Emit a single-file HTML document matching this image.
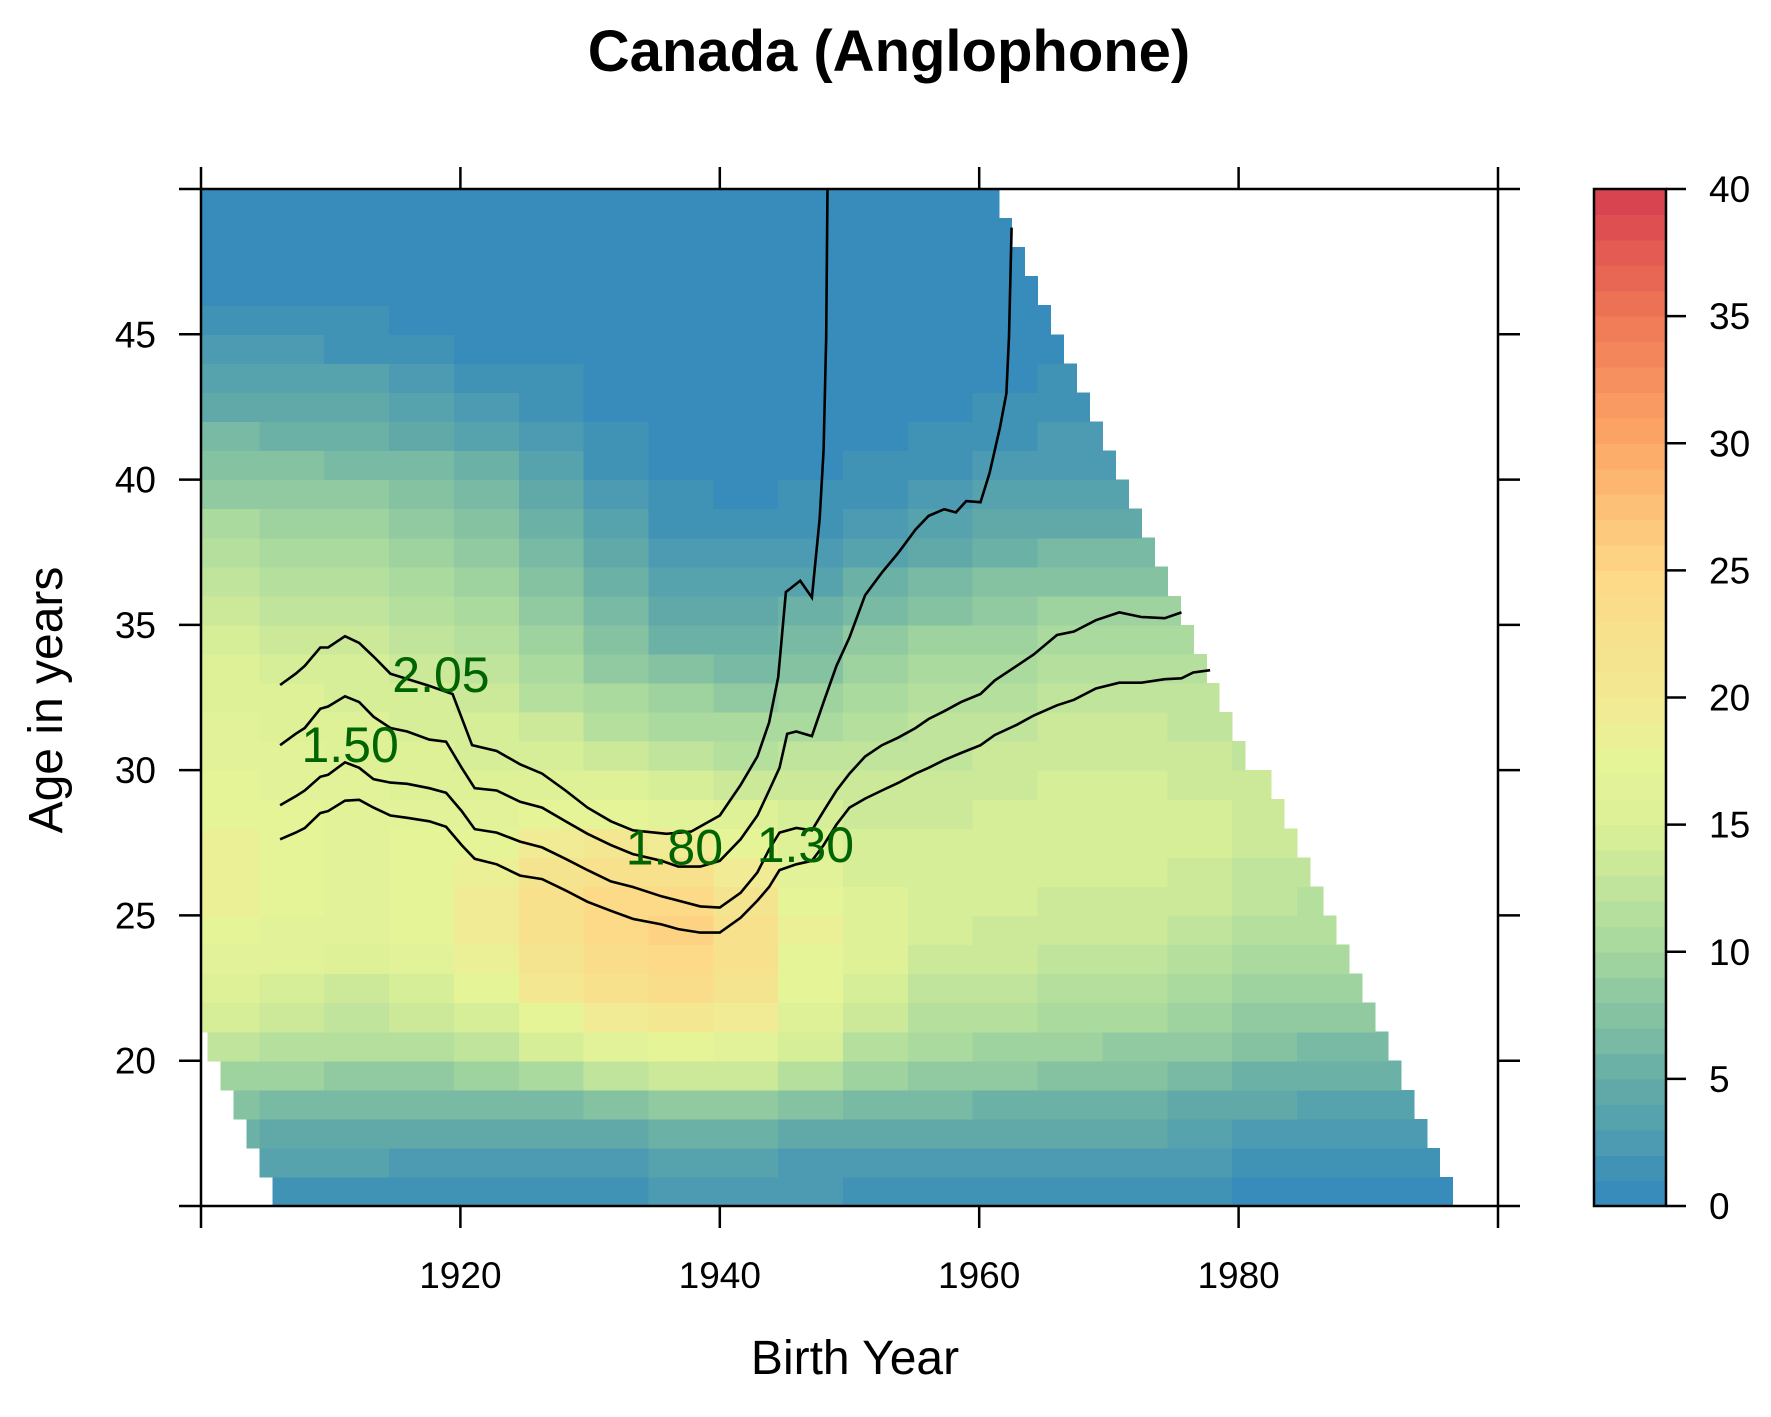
<!DOCTYPE html>
<html><head><meta charset="utf-8"><style>html,body{margin:0;padding:0;background:#fff}svg{display:block}</style></head>
<body>
<svg id="chart" width="1771" height="1417" viewBox="0 0 1771 1417" xmlns="http://www.w3.org/2000/svg" font-family="Liberation Sans, Arial, sans-serif">
<defs><clipPath id="plotclip"><rect x="201" y="189" width="1297" height="1017"/></clipPath></defs>
<rect width="1771" height="1417" fill="#fff"/>
<text x="889" y="71" font-size="58" font-weight="bold" text-anchor="middle">Canada (Anglophone)</text>
<g id="cells" clip-path="url(#plotclip)" shape-rendering="crispEdges"></g>
<g id="contours" clip-path="url(#plotclip)"></g>
<g id="axes"></g>
<g id="cbar"></g>
<text x="855" y="1374" font-size="48" text-anchor="middle">Birth Year</text>
<text x="0" y="0" font-size="48" text-anchor="middle" transform="translate(62,700) rotate(-90)">Age in years</text>
</svg>
<script>
// cohort block starts (5-year blocks)
const cohortBlocks = [1900,1905,1910,1915,1920,1925,1930,1935,1940,1945,1950,1955,1960,1965,1970,1975,1980,1985,1990,1995];
const ages = [15,16,17,18,19,20,21,22,23,24,25,26,27,28,29,30,31,32,33,34,35,36,37,38,39,40,41,42,43,44,45,46,47,48,49];
// rates per 1000 by age (rows) and cohort block (columns)
const rates = [
[1,1,1,1,1,1,1.5,2,2,2,1.5,1.5,1.5,1.5,1.5,1.5,0.7,0.7,0.7,0.7],
[3,3,3,2.5,2,2,2.5,3,3,2.5,2.5,2.5,2.5,2.5,2.5,2.5,1.5,1.5,1.5,1.5],
[5,4.5,4.5,4.5,4,4,4.5,5,5,4.5,4,4,4,4,4,3.5,2.5,2.5,2.5,2.5],
[7,6.5,6,6,6,6.5,7.5,8,8,7,6,6,5.5,5.5,5,4.5,4,3.5,3.5,3.5],
[9,9,8.5,8.5,9,10,12,13,13,11,9,8.5,8,7.5,7,6.5,5.5,5,5,5],
[12,11,11,11,12,14,16,17,16,14,11,10,9.5,9,8.5,8,7,6.5,6.5,6.5],
[14,13,12.5,13,14,17,19,20,19,15,13,11.5,11,10,10,9.5,8.5,8,8,8],
[15,14,13.5,14.5,17,20,22,23,21,17,14,12.5,12,11,11,10.5,9.5,9,9,9],
[16.5,16,15,16,18.5,21,23,24,22,17.5,15,13.5,13,12,12,11.5,10.5,10,10,10],
[17,16.5,16,17,19.5,22,24,25,22,18,15,14,13.5,13,13,12.5,11.5,11,11,11],
[18,17,16.5,17,19.5,22,24,24,21,17.5,15,14,14,13.5,13.5,13,12,11.5,11.5,11.5],
[18,17,16.5,17,18.5,21,22,22,19,16.5,14.5,14,14,14,14,13.5,12.5,12,12,12],
[18,17,16.5,17,17.5,19,20,19,17,15.5,14,14,14,14,14.5,14,13,12.5,12,12],
[17.5,17,16.5,16,16.5,17,17,16,15,14,13.5,13.5,14,14,14.5,14,13,12.5,12,12],
[17,16.5,16,15.5,15.5,15.5,15,14,13,13,13,13,13.5,14,14,13.5,13,12.5,12,12],
[16.5,16,15.5,15,14.5,14,13,12,11.5,12,12.5,12.5,13,13.5,13.5,13,12.5,12,12,12],
[16,15.5,15,14.5,14,13,11.5,10.5,10,10.5,11.5,12,12.5,13,13,12.5,12,12,12,12],
[15.5,15,14.5,14,13,11.5,10,9,8.5,9,10.5,11,11.5,12,12,12,12,12,12,12],
[15,14.5,14,13,12,10,8.5,7,6.5,7.5,9,10,10.5,11,11,11,11,11,11,11],
[14,13.5,13,12,11,9,7,5.5,5,6,8,9,9.5,10,10,10,10,10,10,10],
[13,12.5,12,11,10,8,6,4.5,4,5,6.5,7.5,8.5,9,9,9,9,9,9,9],
[12,11.5,11,10,9,7,5,3.5,3,3.5,5,6,7,7.5,7.5,7.5,7.5,7.5,7.5,7.5],
[11,10.5,10,9,8,6,4,2.5,2,2.5,3.5,4.5,5,6,6,6,6,6,6,6],
[10,9.5,9,8,7,5,3,1.5,1,1.5,2.5,3.5,4,4.5,4.5,4.5,4.5,4.5,4.5,4.5],
[8.5,8,8,7,6,4,2,1,0.5,1,1.5,2.5,3,3.5,3.5,3.5,3.5,3.5,3.5,3.5],
[7,7,6.5,6,5,3,1.5,0.7,0.5,0.5,1,1.5,2,2.5,2.5,2.5,2.5,2.5,2.5,2.5],
[6,5.5,5,4.5,3.5,2,1,0.5,0.5,0.5,0.7,1,1.5,2,2,2,2,2,2,2],
[4.5,4.5,4,3.5,2.5,1.5,0.7,0.5,0.5,0.5,0.5,0.7,1,1.2,1.2,1.2,1.2,1.2,1.2,1.2],
[3.5,3,3,2.5,1.5,1,0.5,0.5,0.5,0.5,0.5,0.5,0.7,1,1,1,1,1,1,1],
[2.5,2,1.5,1,0.7,0.5,0.5,0.5,0.5,0.5,0.5,0.5,0.5,0.7,0.7,0.7,0.7,0.7,0.7,0.7],
[1.2,1.2,1,0.7,0.5,0.5,0.5,0.5,0.5,0.5,0.5,0.5,0.5,0.5,0.5,0.5,0.5,0.5,0.5,0.5],
[0.5,0.5,0.5,0.5,0.5,0.5,0.5,0.5,0.5,0.5,0.5,0.5,0.5,0.5,0.5,0.5,0.5,0.5,0.5,0.5],
[0.5,0.5,0.5,0.5,0.5,0.5,0.5,0.5,0.5,0.5,0.5,0.5,0.5,0.5,0.5,0.5,0.5,0.5,0.5,0.5],
[0.5,0.5,0.5,0.5,0.5,0.5,0.5,0.5,0.5,0.5,0.5,0.5,0.5,0.5,0.5,0.5,0.5,0.5,0.5,0.5],
[0.5,0.5,0.5,0.5,0.5,0.5,0.5,0.5,0.5,0.5,0.5,0.5,0.5,0.5,0.5,0.5,0.5,0.5,0.5,0.5]
];
const xTicks = [1900,1920,1940,1960,1980,2000];
const xTickLabels = ["","1920","1940","1960","1980",""];
const yTicks = [15,20,25,30,35,40,45,50];
const yTickLabels = ["","20","25","30","35","40","45",""];
const keyTicks = [0,5,10,15,20,25,30,35,40];
// contour lines: cohort / age
const c205x = [1906.1,1907.3,1908.0,1909.2,1909.8,1911.1,1912.2,1913.3,1914.6,1917.6,1919.4,1920.9,1922.8,1924.6,1926.3,1928.1,1929.8,1931.6,1933.3,1935.9,1937.8,1940.0,1941.6,1942.9,1943.8,1944.5,1945.1,1946.2,1947.1,1947.7,1948.0,1948.2,1948.3];
const c205y = [32.93,33.32,33.59,34.22,34.22,34.61,34.38,33.91,33.32,32.9,32.62,30.86,30.66,30.20,29.88,29.30,28.71,28.24,27.93,27.81,27.89,28.44,29.49,30.47,31.64,33.20,36.13,36.52,35.94,38.67,41.02,44.92,50];
const c180x = [1906.1,1907.3,1908.0,1909.2,1909.8,1911.1,1912.2,1913.3,1914.6,1915.9,1917.6,1918.9,1920.1,1921.1,1922.8,1924.6,1926.3,1928.1,1929.8,1931.6,1933.3,1935.5,1936.8,1938.5,1940.0,1941.6,1942.9,1943.8,1944.6,1945.2,1945.9,1947.1,1948.0,1949.0,1950.0,1951.2,1952.5,1953.8,1955.1,1956.1,1957.3,1958.2,1959.0,1960.1,1960.8,1961.6,1962.1,1962.3,1962.5];
const c180y = [30.86,31.25,31.45,32.11,32.19,32.54,32.34,31.84,31.45,31.33,31.05,30.98,30.08,29.38,29.30,28.91,28.71,28.24,27.81,27.42,27.11,26.88,26.68,26.68,26.88,27.62,28.44,29.30,30.08,31.25,31.33,31.17,32.34,33.59,34.57,36.02,36.80,37.50,38.28,38.75,38.98,38.87,39.26,39.22,40.23,41.80,42.97,44.92,48.67];
const c150x = [1906.1,1907.3,1908.0,1909.2,1909.8,1911.1,1912.2,1913.3,1914.6,1915.9,1917.6,1918.9,1920.1,1921.1,1922.8,1924.6,1926.3,1928.1,1929.8,1931.6,1933.3,1935.5,1936.8,1938.5,1940.0,1941.6,1942.9,1943.8,1944.6,1945.9,1947.1,1948.0,1949.0,1950.0,1951.2,1952.5,1953.8,1955.1,1956.1,1957.3,1958.6,1960.1,1961.2,1962.9,1964.2,1966.0,1967.3,1969.0,1970.8,1972.5,1974.3,1975.6];
const c150y = [28.79,29.10,29.30,29.77,29.84,30.27,30.08,29.69,29.57,29.53,29.38,29.22,28.59,27.97,27.85,27.54,27.34,26.95,26.56,26.17,25.98,25.66,25.51,25.31,25.27,25.78,26.48,27.27,27.85,28.01,27.93,28.59,29.30,29.88,30.47,30.86,31.13,31.45,31.76,32.03,32.34,32.62,33.09,33.59,33.98,34.65,34.77,35.16,35.43,35.27,35.23,35.43];
const c130x = [1906.1,1907.3,1908.0,1909.2,1909.8,1911.1,1912.2,1913.3,1914.6,1915.9,1917.6,1918.9,1920.1,1921.1,1922.8,1924.6,1926.3,1928.1,1929.8,1931.6,1933.3,1935.5,1936.8,1938.5,1940.0,1941.6,1942.9,1943.8,1944.6,1945.9,1947.1,1948.0,1949.0,1950.0,1951.2,1952.5,1953.8,1955.1,1956.1,1957.3,1958.6,1960.1,1961.2,1962.9,1964.2,1966.0,1967.3,1969.0,1970.8,1972.5,1974.3,1975.6,1976.5,1977.8];
const c130y = [27.62,27.85,28.01,28.52,28.59,28.95,28.98,28.71,28.44,28.36,28.24,28.05,27.42,26.95,26.76,26.37,26.25,25.86,25.47,25.16,24.88,24.69,24.53,24.41,24.41,24.92,25.51,25.98,26.56,26.76,26.88,27.42,28.13,28.71,29.02,29.30,29.57,29.88,30.08,30.35,30.59,30.86,31.21,31.56,31.88,32.23,32.42,32.81,33.01,33.01,33.13,33.16,33.36,33.44];
const contourLabels = ["2.05","1.50","1.80","1.30"];
const labelX = [1918.5,1911.5,1936.5,1946.6];
const labelY = [33.28,30.86,27.34,27.42];

const NS = "http://www.w3.org/2000/svg";
const X = c => 201 + (c - 1900) * 12.97;
const Y = a => 1206 - (a - 15) * (1017 / 35);
const KY = v => 1206 - v * (1017 / 40);
const stops = [[0,[50,136,189]],[5,[101,173,166]],[10,[164,215,158]],[15,[220,240,151]],[17.5,[230,244,152]],[20,[242,233,147]],[25,[253,216,134]],[30,[252,168,103]],[35,[240,120,86]],[40,[213,62,79]]];
function color(v){
  const b = Math.min(39, Math.max(0, Math.floor(v))) + 0.5;
  for (let i = 0; i < stops.length - 1; i++) {
    const [v0, c0] = stops[i], [v1, c1] = stops[i+1];
    if (b <= v1) { const t = (b - v0) / (v1 - v0);
      return "rgb(" + c0.map((x, k) => Math.round(x + (c1[k] - x) * t)).join(",") + ")"; }
  }
  return "rgb(213,62,79)";
}
function mk(tag, attrs, parent){ const e = document.createElementNS(NS, tag); for (const k in attrs) e.setAttribute(k, attrs[k]); parent.appendChild(e); return e; }

const cells = document.getElementById("cells");
ages.forEach((a, ai) => {
  const cmin = Math.max(1900, 1921 - a);
  const cmax = a < 30 ? 2011 - a : 2010 - a;
  for (let c = cmin; c <= cmax; c++) {
    const bi = Math.min(cohortBlocks.length - 1, Math.floor((c - 1900) / 5));
    const v = rates[ai][bi];
    const r = mk("rect", {x: X(c - 0.5), y: Y(a + 1), width: 12.97 + 0.6, height: 1017/35 + 0.6, fill: color(v)}, cells);
    
    
  }
});

const cont = document.getElementById("contours");
[[c205x,c205y],[c180x,c180y],[c150x,c150y],[c130x,c130y]].forEach(([xs, ys]) => {
  const p = mk("polyline", {points: xs.map((c, i) => X(c).toFixed(1) + "," + Y(ys[i]).toFixed(1)).join(" "), fill: "none", stroke: "#000", "stroke-width": 2.6}, cont);
  
  
});
contourLabels.forEach((t, i) => {
  const e = mk("text", {x: X(labelX[i]), y: Y(labelY[i]) + 17, "font-size": 50, fill: "#006400", "text-anchor": "middle"}, cont);
  e.textContent = t;
  
  
});

const ax = document.getElementById("axes");
const frame = mk("rect", {x: 201, y: 189, width: 1297, height: 1017, fill: "none", stroke: "#000", "stroke-width": 2.5}, ax);


xTicks.forEach((t, i) => {
  const x = X(t);
  const tb = mk("line", {x1: x, x2: x, y1: 1206, y2: 1228, stroke: "#000", "stroke-width": 2.5}, ax);
  
  
  const tt = mk("line", {x1: x, x2: x, y1: 167, y2: 189, stroke: "#000", "stroke-width": 2.5}, ax);
  
  
  const l = mk("text", {x: x, y: 1288, "font-size": 37, "text-anchor": "middle"}, ax);
  l.textContent = xTickLabels[i];
  
  
});
yTicks.forEach((t, i) => {
  const y = Y(t);
  const tl = mk("line", {x1: 179, x2: 201, y1: y, y2: y, stroke: "#000", "stroke-width": 2.5}, ax);
  
  
  const tr = mk("line", {x1: 1498, x2: 1520, y1: y, y2: y, stroke: "#000", "stroke-width": 2.5}, ax);
  
  
  const l = mk("text", {x: 156, y: y + 13, "font-size": 37, "text-anchor": "end"}, ax);
  l.textContent = yTickLabels[i];
  
  
});

const cb = document.getElementById("cbar");
for (let v = 0; v < 40; v++) {
  const r = mk("rect", {x: 1594, y: KY(v + 1), width: 72, height: 1017/40 + 0.6, fill: color(v), "shape-rendering": "crispEdges"}, cb);
  
  
}
const cbf = mk("rect", {x: 1594, y: 189, width: 72, height: 1017, fill: "none", stroke: "#000", "stroke-width": 2.5}, cb);


keyTicks.forEach(t => {
  const y = KY(t);
  const tk = mk("line", {x1: 1666, x2: 1686, y1: y, y2: y, stroke: "#000", "stroke-width": 2.5}, cb);
  
  
  const l = mk("text", {x: 1709, y: y + 13, "font-size": 37}, cb);
  l.textContent = String(t);
  
  
});
</script>
</body></html>
